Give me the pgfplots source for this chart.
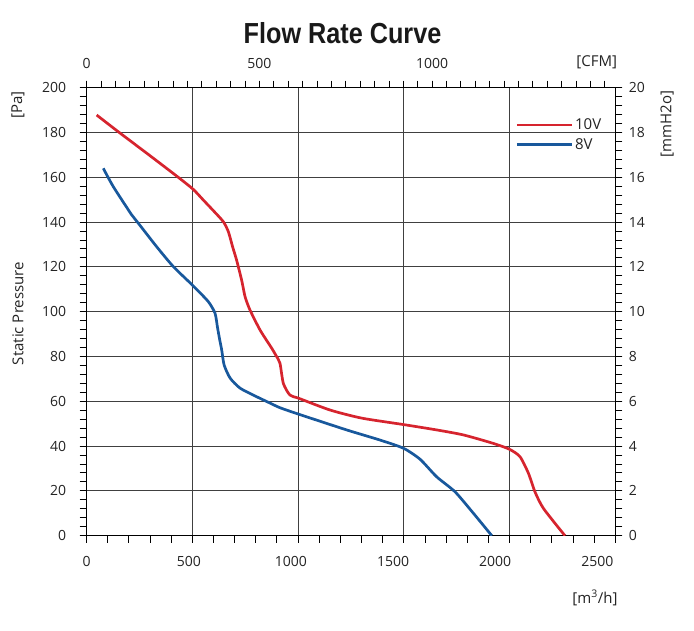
\documentclass[border=0pt]{standalone}
\usepackage{pgfplots}
\pgfplotsset{compat=1.18}
\usepackage{fontspec}
\usepackage{graphicx}
\setmainfont{Open Sans}
\newfontfamily\titlefont{Liberation Sans}
\definecolor{redline}{RGB}{214,36,46}
\definecolor{blueline}{RGB}{24,88,156}
\definecolor{txt}{RGB}{35,35,35}

\pgfplotsset{
  frame/.style={
    at={(86.7pt,95.3pt)}, anchor=south west,
    scale only axis, width=528.6pt, height=448pt,
    /pgf/number format/assume math mode=true,
    /pgf/number format/1000 sep={},
    ticklabel style={font=\fontsize{14}{16}\selectfont, text=txt},
    tick style={line width=1pt, black},
    major tick length=7pt, minor tick length=7pt,
    tick align=outside,
    axis line style={line width=1.2pt},
  }
}

\begin{document}
\begin{tikzpicture}
\useasboundingbox (0,0) rectangle (694pt,631pt);

% main axis: m3/h vs Pa
\begin{axis}[frame,
  xmin=0, xmax=2500, ymin=0, ymax=200,
  xtick={0,500,...,2500}, xticklabels={},
  minor xtick={0,100,...,2500},
  extra x ticks={0,483,966,1449,1932,2415},
  extra x tick labels={0,500,1000,1500,2000,2500},
  extra x tick style={major tick length=0pt, xmajorgrids=false,
    xticklabel style={anchor=center, yshift=-25.3pt}},
  ytick={0,20,...,200}, minor ytick={0,4,...,200},
  yticklabel style={anchor=east, xshift=-10pt},
  xtick pos=left, ytick pos=left,
  grid=major, major grid style={line width=0.9pt, black!75},
  legend style={draw=none, fill=none, at={(0.805,0.94)}, anchor=north west,
    font=\fontsize{15}{17}\selectfont, text=txt, row sep=3pt},
  legend cell align=left,
  legend image code/.code={\draw[#1] (0pt,0pt) -- (55pt,0pt);},
]
\addplot[redline, line width=2.7pt, smooth, tension=0.4] coordinates {
  (47,187.8) (154,180) (300,169.6) (433,160) (504,154.6) (551,149.9)
  (600,145) (646,140.2) (670,135.7) (690,129) (709,123) (733,114)
  (749,106.7) (772,100.8) (820,91.8) (875,83.7) (895,80.5) (914,77)
  (930,68) (961,62.8) (1004,61.3) (1151,56.1) (1300,52.5) (1499,49.6)
  (1650,47.3) (1781,45) (1923,41.2) (1999,38.6) (2049,35.3) (2089,27.9)
  (2120,19.6) (2160,12.2) (2262,0)
};
\addlegendentry{10V}
\addplot[blueline, line width=2.7pt, smooth, tension=0.4] coordinates {
  (78.5,164) (126,155.8) (213,143.2) (244,139.5) (331,129) (410,120.1)
  (504,111.5) (575,104.5) (607,99.3) (618,93.3) (628,88) (638.5,82.9)
  (650,76.2) (678,70.4) (725,65.9) (796,62.4) (867,59.2) (915,57.1)
  (1004,54.2) (1230,47.2) (1387,42.7) (1499,39) (1577,34.1) (1655,26.3)
  (1742,19.6) (1829,10) (1916,0)
};
\addlegendentry{8V}
\end{axis}

% right axis: mmH2o
\begin{axis}[frame,
  xmin=0, xmax=1, ymin=0, ymax=20,
  axis x line=none, axis y line*=right,
  ytick={0,2,...,20}, minor ytick={0,0.4,...,20},
  yticklabel style={anchor=west, xshift=3pt},
]
\end{axis}

% top axis: CFM
\begin{axis}[frame,
  xmin=0, xmax=1530, ymin=0, ymax=1,
  axis y line=none, axis x line*=top,
  xtick={0,500,1000}, minor xtick={0,41.6667,...,1530},
  xticklabel style={yshift=9pt},
]
\end{axis}

\node[font=\titlefont\bfseries\fontsize{29}{32}\selectfont, text=black!90]
  at (342.5pt,597.5pt) {\scalebox{0.87}[1]{Flow Rate Curve}};
\begin{scope}[every node/.style={font=\fontsize{15}{17}\selectfont, text=txt}]
  \node[rotate=90] at (18pt,526pt) {[Pa]};
  \node[rotate=90] at (18pt,317.5pt) {Static Pressure};
  \node[rotate=90] at (667pt,507pt) {[mmH2o]};
  \node at (596.7pt,568.3pt) {[CFM]};
  \node at (595pt,33pt) {[m\textsuperscript{3}/h]};
\end{scope}
\end{tikzpicture}
\end{document}
